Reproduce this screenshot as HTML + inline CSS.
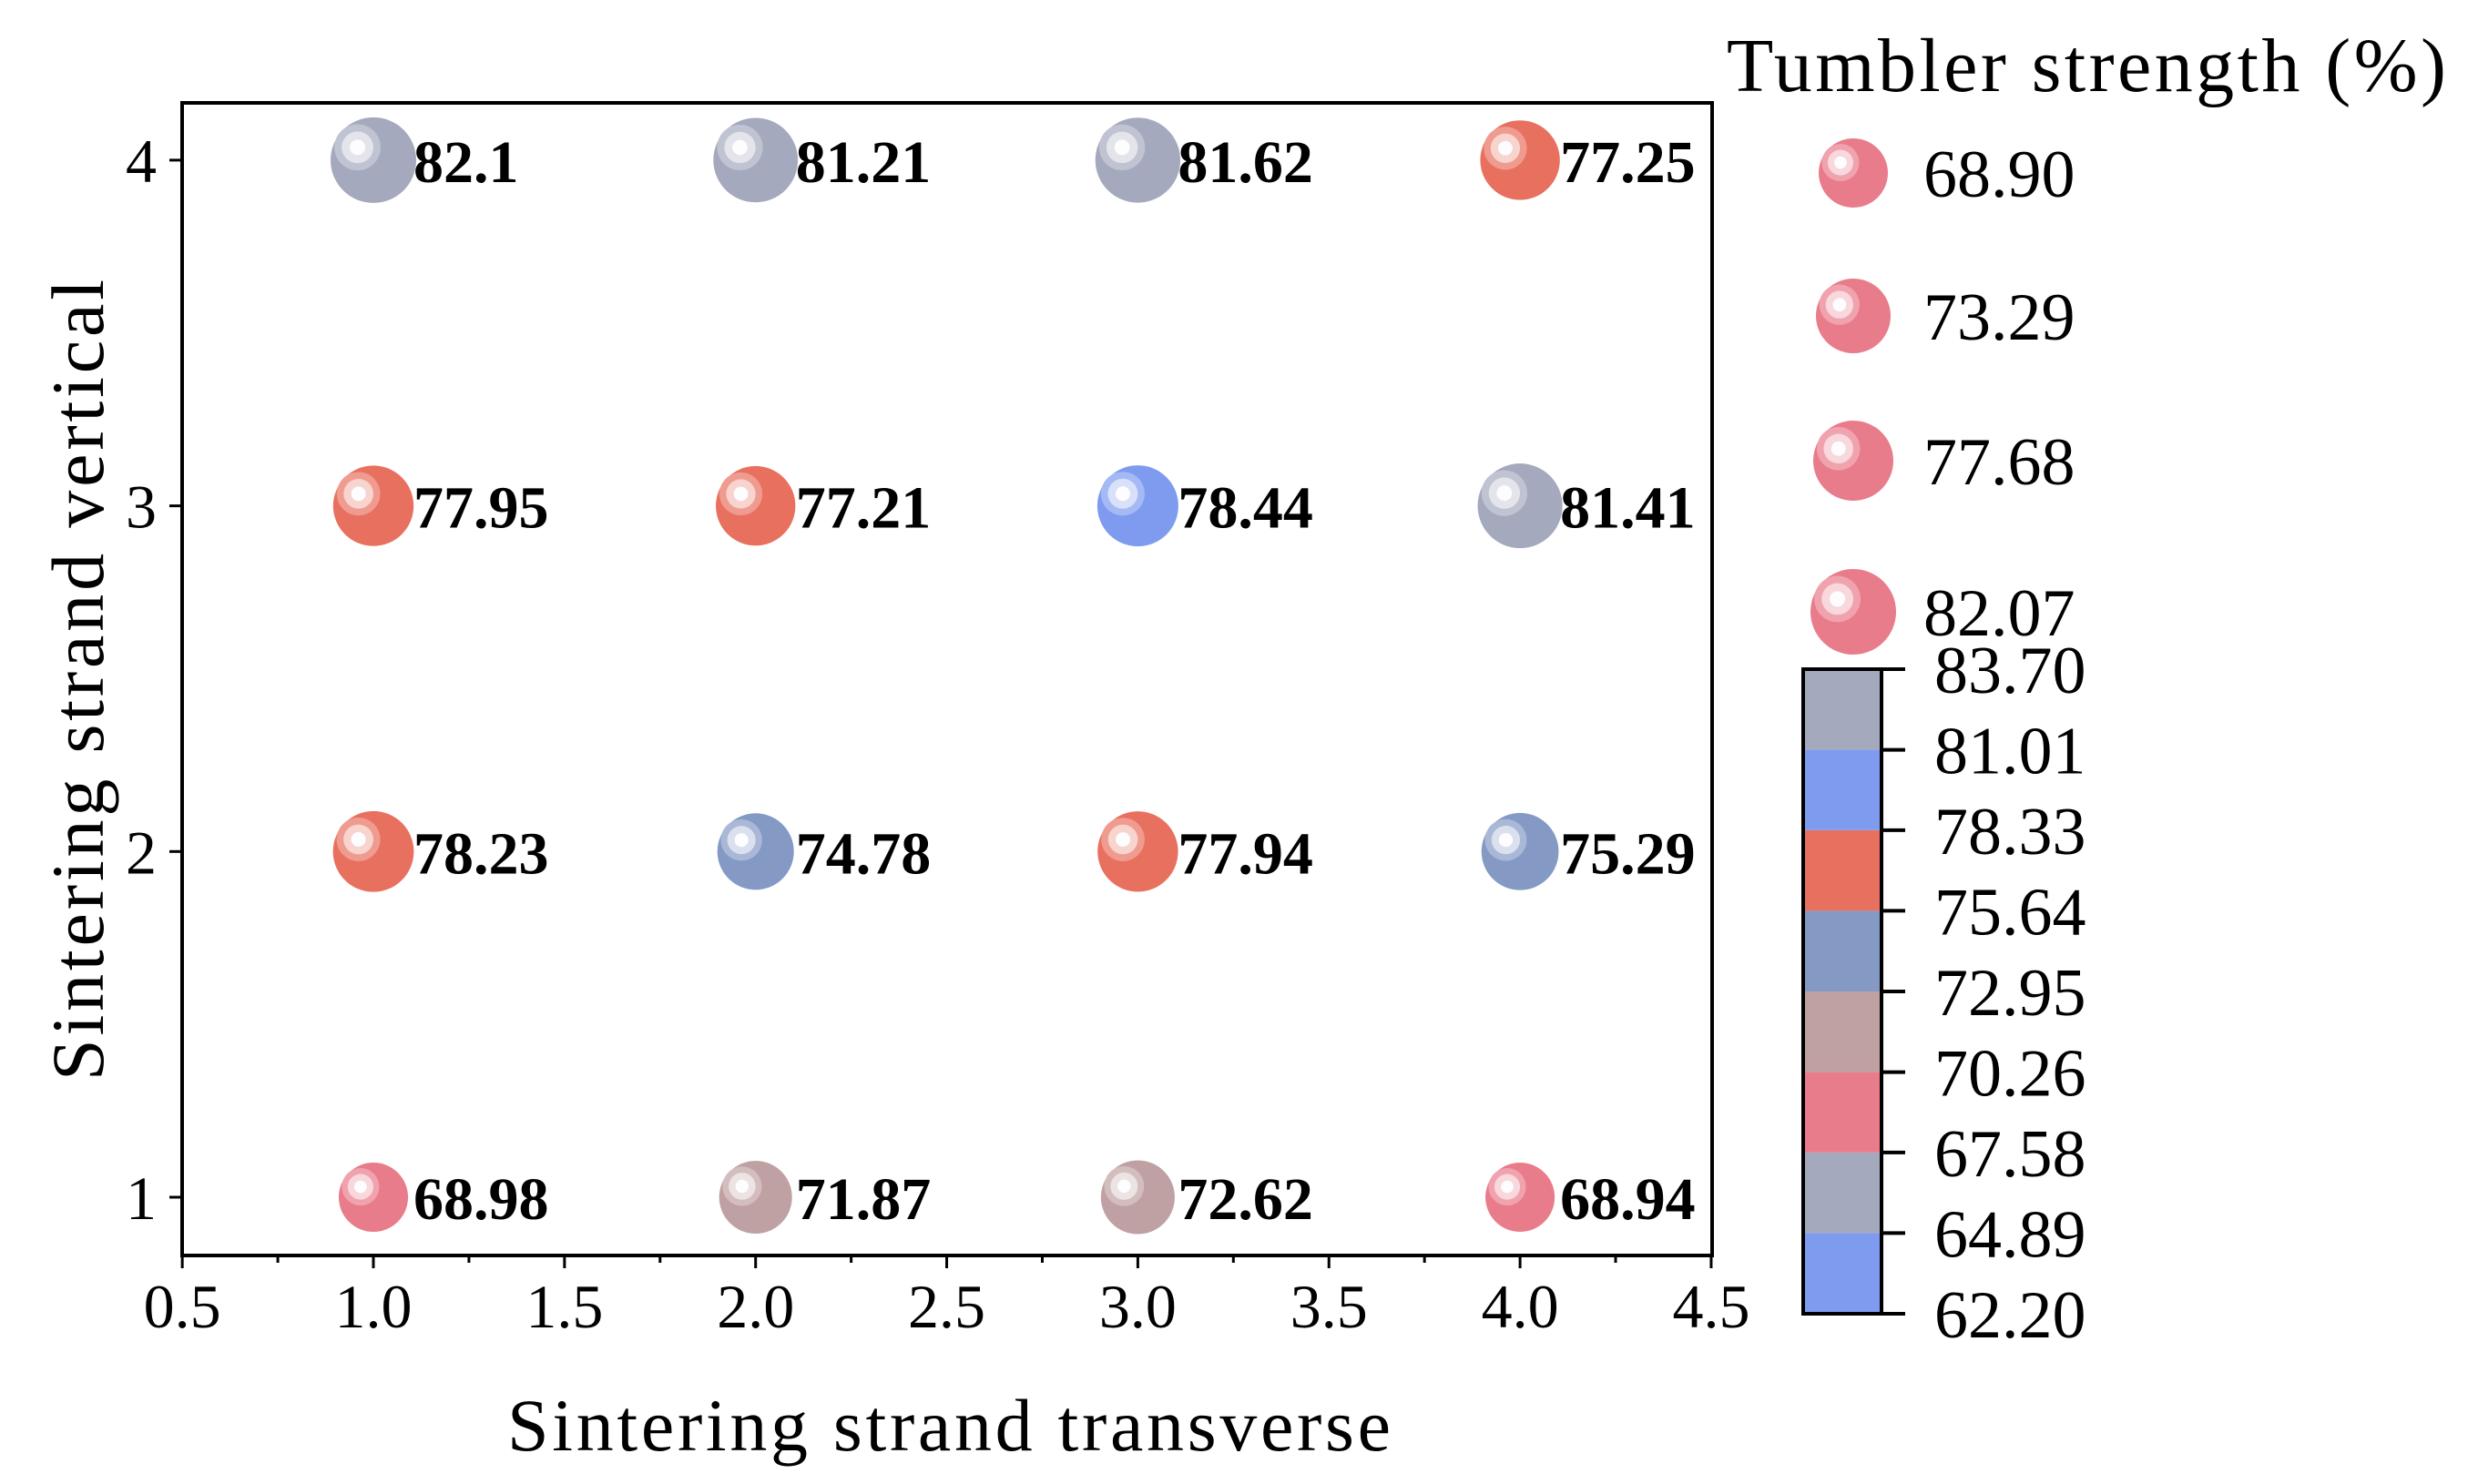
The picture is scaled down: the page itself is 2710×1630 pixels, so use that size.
<!DOCTYPE html>
<html><head><meta charset="utf-8"><style>
html,body{margin:0;padding:0;background:#fff;}
svg{display:block;font-family:"Liberation Serif",serif;}
</style></head><body>
<svg id="chart" width="2710" height="1630" viewBox="0 0 2710 1630" xmlns="http://www.w3.org/2000/svg">
<defs id="defs"></defs>
<g id="plot"></g>
</svg>
<script>
const xs = [1,2,3,4, 1,2,3,4, 1,2,3,4, 1,2,3,4];
const ys = [4,4,4,4, 3,3,3,3, 2,2,2,2, 1,1,1,1];
const values = [82.1,81.21,81.62,77.25, 77.95,77.21,78.44,81.41, 78.23,74.78,77.94,75.29, 68.98,71.87,72.62,68.94];
const labels = ["82.1","81.21","81.62","77.25","77.95","77.21","78.44","81.41","78.23","74.78","77.94","75.29","68.98","71.87","72.62","68.94"];
const xTicks = [0.5,1.0,1.5,2.0,2.5,3.0,3.5,4.0,4.5];
const xTickLabels = ["0.5","1.0","1.5","2.0","2.5","3.0","3.5","4.0","4.5"];
const yTicks = [1,2,3,4];
const cbBounds = [62.20,64.89,67.58,70.26,72.95,75.64,78.33,81.01,83.70];
const cbLabels = ["62.20","64.89","67.58","70.26","72.95","75.64","78.33","81.01","83.70"];
const cbColors = ["#7f9bef","#a5a9bd","#e97c8b","#c0a1a3","#8499c4","#e8705f","#7f9bef","#a5a9bd"];
const legendValues = [68.90,73.29,77.68,82.07];
const legendLabels = ["68.90","73.29","77.68","82.07"];

const NS="http://www.w3.org/2000/svg";
const svg=document.getElementById('chart');
const defs=document.getElementById('defs');
const g=document.getElementById('plot');
function mk(tag,attrs,parent){const e=document.createElementNS(NS,tag);for(const k in attrs)e.setAttribute(k,attrs[k]);(parent||svg).appendChild(e);return e;}

const L=200,R=1880,T=113,B=1379;
const X=v=>410+(v-1)*419.7;
const Y=v=>1315-(v-1)*379.7;
const rScale=v=>38+(v-68.9)*9/13.17;
function colorFor(v){for(let i=0;i<cbColors.length;i++){if(v<cbBounds[i+1])return cbColors[i];}return cbColors[cbColors.length-1];}

function lighten(hex,f){const n=parseInt(hex.slice(1),16);let r=n>>16,gg=(n>>8)&255,b=n&255;r=Math.round(r+(255-r)*f);gg=Math.round(gg+(255-gg)*f);b=Math.round(b+(255-b)*f);return `rgb(${r},${gg},${b})`;}
function bubble(cx,cy,r,col,parent,name){
  const grp=mk('g',{},parent);
  
  
  mk('circle',{cx:cx,cy:cy,r:r,fill:col},grp);
  const hx=cx-r*0.37,hy=cy-r*0.3;
  mk('circle',{cx:hx,cy:hy,r:r*0.54,fill:lighten(col,0.3)},grp);
  mk('circle',{cx:hx,cy:hy,r:r*0.37,fill:lighten(col,0.7)},grp);
  mk('circle',{cx:hx,cy:hy,r:r*0.18,fill:'#fdfdff'},grp);
}

// axes box
const box=mk('rect',{x:L,y:T,width:R-L,height:B-T,fill:'none',stroke:'#000','stroke-width':4},g);



// x ticks
xTicks.forEach((t,i)=>{
  mk('line',{x1:X(t),x2:X(t),y1:B,y2:B+14,stroke:'#000','stroke-width':3},g);
  if(i<xTicks.length-1) mk('line',{x1:X(t+0.25),x2:X(t+0.25),y1:B,y2:B+8,stroke:'#000','stroke-width':3},g);
  const tx=mk('text',{x:X(t),y:1458,'font-size':68,'text-anchor':'middle'},g);
  tx.textContent=xTickLabels[i];
  
  
});
yTicks.forEach((t,i)=>{
  mk('line',{x1:L,x2:L-14,y1:Y(t),y2:Y(t),stroke:'#000','stroke-width':3},g);
  const ty=mk('text',{x:172,y:Y(t)+24,'font-size':68,'text-anchor':'end'},g);
  ty.textContent=String(t);
  
  
});

// bubbles
values.forEach((v,i)=>{
  const cx=X(xs[i]),cy=Y(ys[i]),r=rScale(v);
  bubble(cx,cy,r,colorFor(v),g,'bubble-point');
  const t=mk('text',{x:cx+44,y:cy+24,'font-size':66,'font-weight':'bold'},g);
  t.textContent=labels[i];
  
  
});

// axis titles
const xt=mk('text',{x:1042,y:1593,'font-size':82,'text-anchor':'middle',textLength:970});
xt.textContent='Sintering strand transverse';


const yt=mk('text',{x:0,y:0,'font-size':82,'text-anchor':'middle',textLength:880,transform:'translate(113,747) rotate(-90)'});
yt.textContent='Sintering strand vertical';



// legend
const lg=mk('g',{});


const lt=mk('text',{x:1896,y:100,'font-size':84,textLength:790},lg);
lt.textContent='Tumbler strength (%)';


const legendY=[190,347,506,672];
legendValues.forEach((v,i)=>{
  bubble(2035,legendY[i],rScale(v),'#e97c8b',lg,'legend-entry');
  const t=mk('text',{x:2112,y:legendY[i]+26,'font-size':74},lg);
  t.textContent=legendLabels[i];
  
  
});

// colorbar
const cb=mk('g',{});


const cT=735,cB=1443,cL=1980,cR=2066;
const CY=v=>cB-(v-cbBounds[0])/(cbBounds[8]-cbBounds[0])*(cB-cT);
cbColors.forEach((c,i)=>{
  const r=mk('rect',{x:cL,y:CY(cbBounds[i+1]),width:cR-cL,height:CY(cbBounds[i])-CY(cbBounds[i+1]),fill:c},cb);
  
  
});
mk('rect',{x:cL,y:cT,width:cR-cL,height:cB-cT,fill:'none',stroke:'#000','stroke-width':4},cb);
cbBounds.forEach((v,i)=>{
  mk('line',{x1:cR,x2:cR+26,y1:CY(v),y2:CY(v),stroke:'#000','stroke-width':4},cb);
  const t=mk('text',{x:2124,y:CY(v)+26,'font-size':74},cb);
  t.textContent=cbLabels[i];
  
  
});
</script>
</body></html>
